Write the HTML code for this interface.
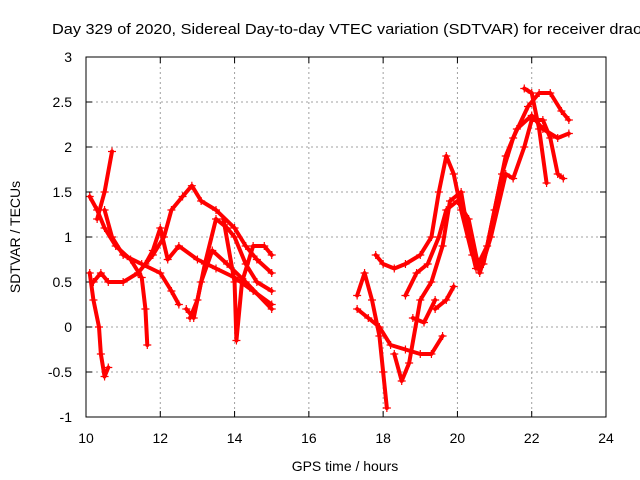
<!DOCTYPE html>
<html><head><meta charset="utf-8"><style>
html,body{margin:0;padding:0;background:#fff;overflow:hidden;}
svg{display:block;font-family:"Liberation Sans",sans-serif;}
</style></head><body>
<svg id="chart" width="640" height="480" viewBox="0 0 640 480">
<text x="52" y="34" font-size="15" textLength="590" lengthAdjust="spacingAndGlyphs">Day 329 of 2020, Sidereal Day-to-day VTEC variation (SDTVAR) for receiver drao</text>
<text x="345" y="471" font-size="14" text-anchor="middle">GPS time / hours</text>
<text transform="translate(20,237) rotate(-90)" font-size="14" text-anchor="middle">SDTVAR / TECUs</text>
<g id="grid"></g><g id="ticks"></g><g id="series"></g>
<rect x="86" y="57" width="520" height="360" fill="none" stroke="#000" stroke-width="1"/>
</svg>
<script>
const xTicks=[10,12,14,16,18,20,22,24];
const yTicks=[-1,-0.5,0,0.5,1,1.5,2,2.5,3];
const yTickLabels=["-1","-0.5","0","0.5","1","1.5","2","2.5","3"];
const trackT1=[[10.1,1.45],[10.3,1.3],[10.5,1.1],[10.8,0.9],[11.2,0.75],[11.5,0.55],[11.6,0.2],[11.65,-0.2]];
const trackT2=[[10.2,0.5],[10.4,0.6],[10.6,0.5],[11,0.5],[11.4,0.6],[11.8,0.8],[12.1,1.0],[12.3,1.3],[12.6,1.45],[12.85,1.57],[13.1,1.4],[13.5,1.3],[14,1.1],[14.3,0.9],[14.6,0.75],[15,0.6]];
const trackT3=[[10.1,0.6],[10.2,0.3],[10.35,0.0],[10.4,-0.3],[10.5,-0.55],[10.6,-0.45]];
const trackT4=[[10.3,1.2],[10.5,1.5],[10.7,1.95]];
const trackT5=[[10.5,1.3],[10.7,1.0],[11,0.8],[11.5,0.7],[12,0.6],[12.3,0.4],[12.5,0.25]];
const trackT6=[[11.6,0.7],[11.8,0.85],[12,1.1],[12.2,0.75],[12.5,0.9],[13,0.75],[13.5,0.65],[14,0.55],[14.5,0.4],[15,0.25]];
const trackT7=[[12.8,0.1],[13,0.3],[13.2,0.7],[13.5,1.2],[13.8,1.1],[14,1.0],[14.3,0.7],[14.6,0.5],[15,0.4]];
const trackT8=[[13.7,1.2],[14,0.5],[14.05,-0.15],[14.2,0.5],[14.5,0.9],[14.8,0.9],[15,0.8]];
const trackT9=[[12.7,0.2],[12.9,0.1],[13.1,0.5],[13.4,0.85],[13.8,0.7],[14.3,0.5],[15,0.2]];
const trackU1=[[17.3,0.35],[17.5,0.6],[17.7,0.3],[17.9,-0.1],[18.0,-0.5],[18.1,-0.9]];
const trackU2=[[17.3,0.2],[17.6,0.1],[17.9,0.0],[18.2,-0.2],[18.6,-0.25],[19,-0.3],[19.3,-0.3],[19.6,-0.1]];
const trackU3=[[17.8,0.8],[18,0.7],[18.3,0.65],[18.6,0.7],[19,0.8],[19.3,1.0],[19.5,1.5],[19.7,1.9],[19.9,1.7],[20.1,1.3],[20.4,0.8],[20.7,0.7],[21,1.3],[21.3,1.9],[21.6,2.2],[22,2.35],[22.3,2.2],[22.7,2.1],[23,2.15]];
const trackU4=[[18.3,-0.3],[18.5,-0.6],[18.7,-0.4],[19,0.3],[19.3,0.5],[19.6,0.9],[19.8,1.4],[20.1,1.5],[20.3,1.0],[20.5,0.65],[20.8,0.9],[21.2,1.7],[21.5,2.1],[21.9,2.45],[22.2,2.6],[22.5,2.6],[22.8,2.4],[23,2.3]];
const trackU5=[[18.6,0.35],[18.9,0.6],[19.2,0.7],[19.5,1.0],[19.7,1.3],[20,1.4],[20.3,1.2],[20.6,0.6],[20.9,1.0],[21.3,1.7],[21.5,1.65],[21.8,2.0],[22,2.3],[22.3,2.3],[22.5,2.1],[22.7,1.7],[22.85,1.65]];
const trackU6=[[19.4,0.2],[19.7,0.3],[19.9,0.45]];
const trackU7=[[18.8,0.1],[19.1,0.05],[19.4,0.3]];
const trackU8=[[21.8,2.65],[22,2.6],[22.2,2.2],[22.4,1.6]];
const tracks=[trackT1,trackT2,trackT3,trackT4,trackT5,trackT6,trackT7,trackT8,trackT9,trackU1,trackU2,trackU3,trackU4,trackU5,trackU6,trackU7,trackU8];

const X0=86,X1=606,Y0=417,Y1=57;
const xs=v=>X0+(v-10)/(24-10)*(X1-X0);
const ys=v=>Y0-(v+1)/(3+1)*(Y0-Y1);
const NS="http://www.w3.org/2000/svg";
const grid=document.getElementById('grid'),ticks=document.getElementById('ticks'),ser=document.getElementById('series');
function mk(tag,attrs,parent){const e=document.createElementNS(NS,tag);for(const k in attrs)e.setAttribute(k,attrs[k]);parent.appendChild(e);return e;}
xTicks.forEach(t=>{
  const x=xs(t);
  if(t>10&&t<24){const g=mk('line',{x1:x,x2:x,y1:Y1,y2:Y0,stroke:'#a0a0a0','stroke-dasharray':'2,3'},grid);
  
  }
  const tk=mk('path',{d:`M${x},${Y0}v-6M${x},${Y1}v6`,stroke:'#000'},ticks);
  
  
  const l=mk('text',{x:x,y:Y0+26,'font-size':14,'text-anchor':'middle'},ticks);l.textContent=t;
  
  
});
yTicks.forEach((t,i)=>{
  const y=ys(t);
  if(t>-1&&t<3){const g=mk('line',{x1:X0,x2:X1,y1:y,y2:y,stroke:'#a0a0a0','stroke-dasharray':'2,3'},grid);
  
  }
  const tk=mk('path',{d:`M${X0},${y}h6M${X1},${y}h-6`,stroke:'#000'},ticks);
  
  
  const l=mk('text',{x:X0-14,y:y+5,'font-size':14,'text-anchor':'end'},ticks);l.textContent=yTickLabels[i];
  
  
});
tracks.forEach((tr,i)=>{
  const p=mk('polyline',{points:tr.map(d=>xs(d[0])+','+ys(d[1])).join(' '),fill:'none',stroke:'#ff0000','stroke-width':4,'stroke-linejoin':'round','stroke-linecap':'round'},ser);
  
  
  tr.forEach(d=>{
    const x=xs(d[0]),y=ys(d[1]);
    const m=mk('path',{d:`M${x-4},${y}h8M${x},${y-4}v8`,stroke:'#ff0000','stroke-width':1.2},ser);
    
    
  });
});
</script>
</body></html>
